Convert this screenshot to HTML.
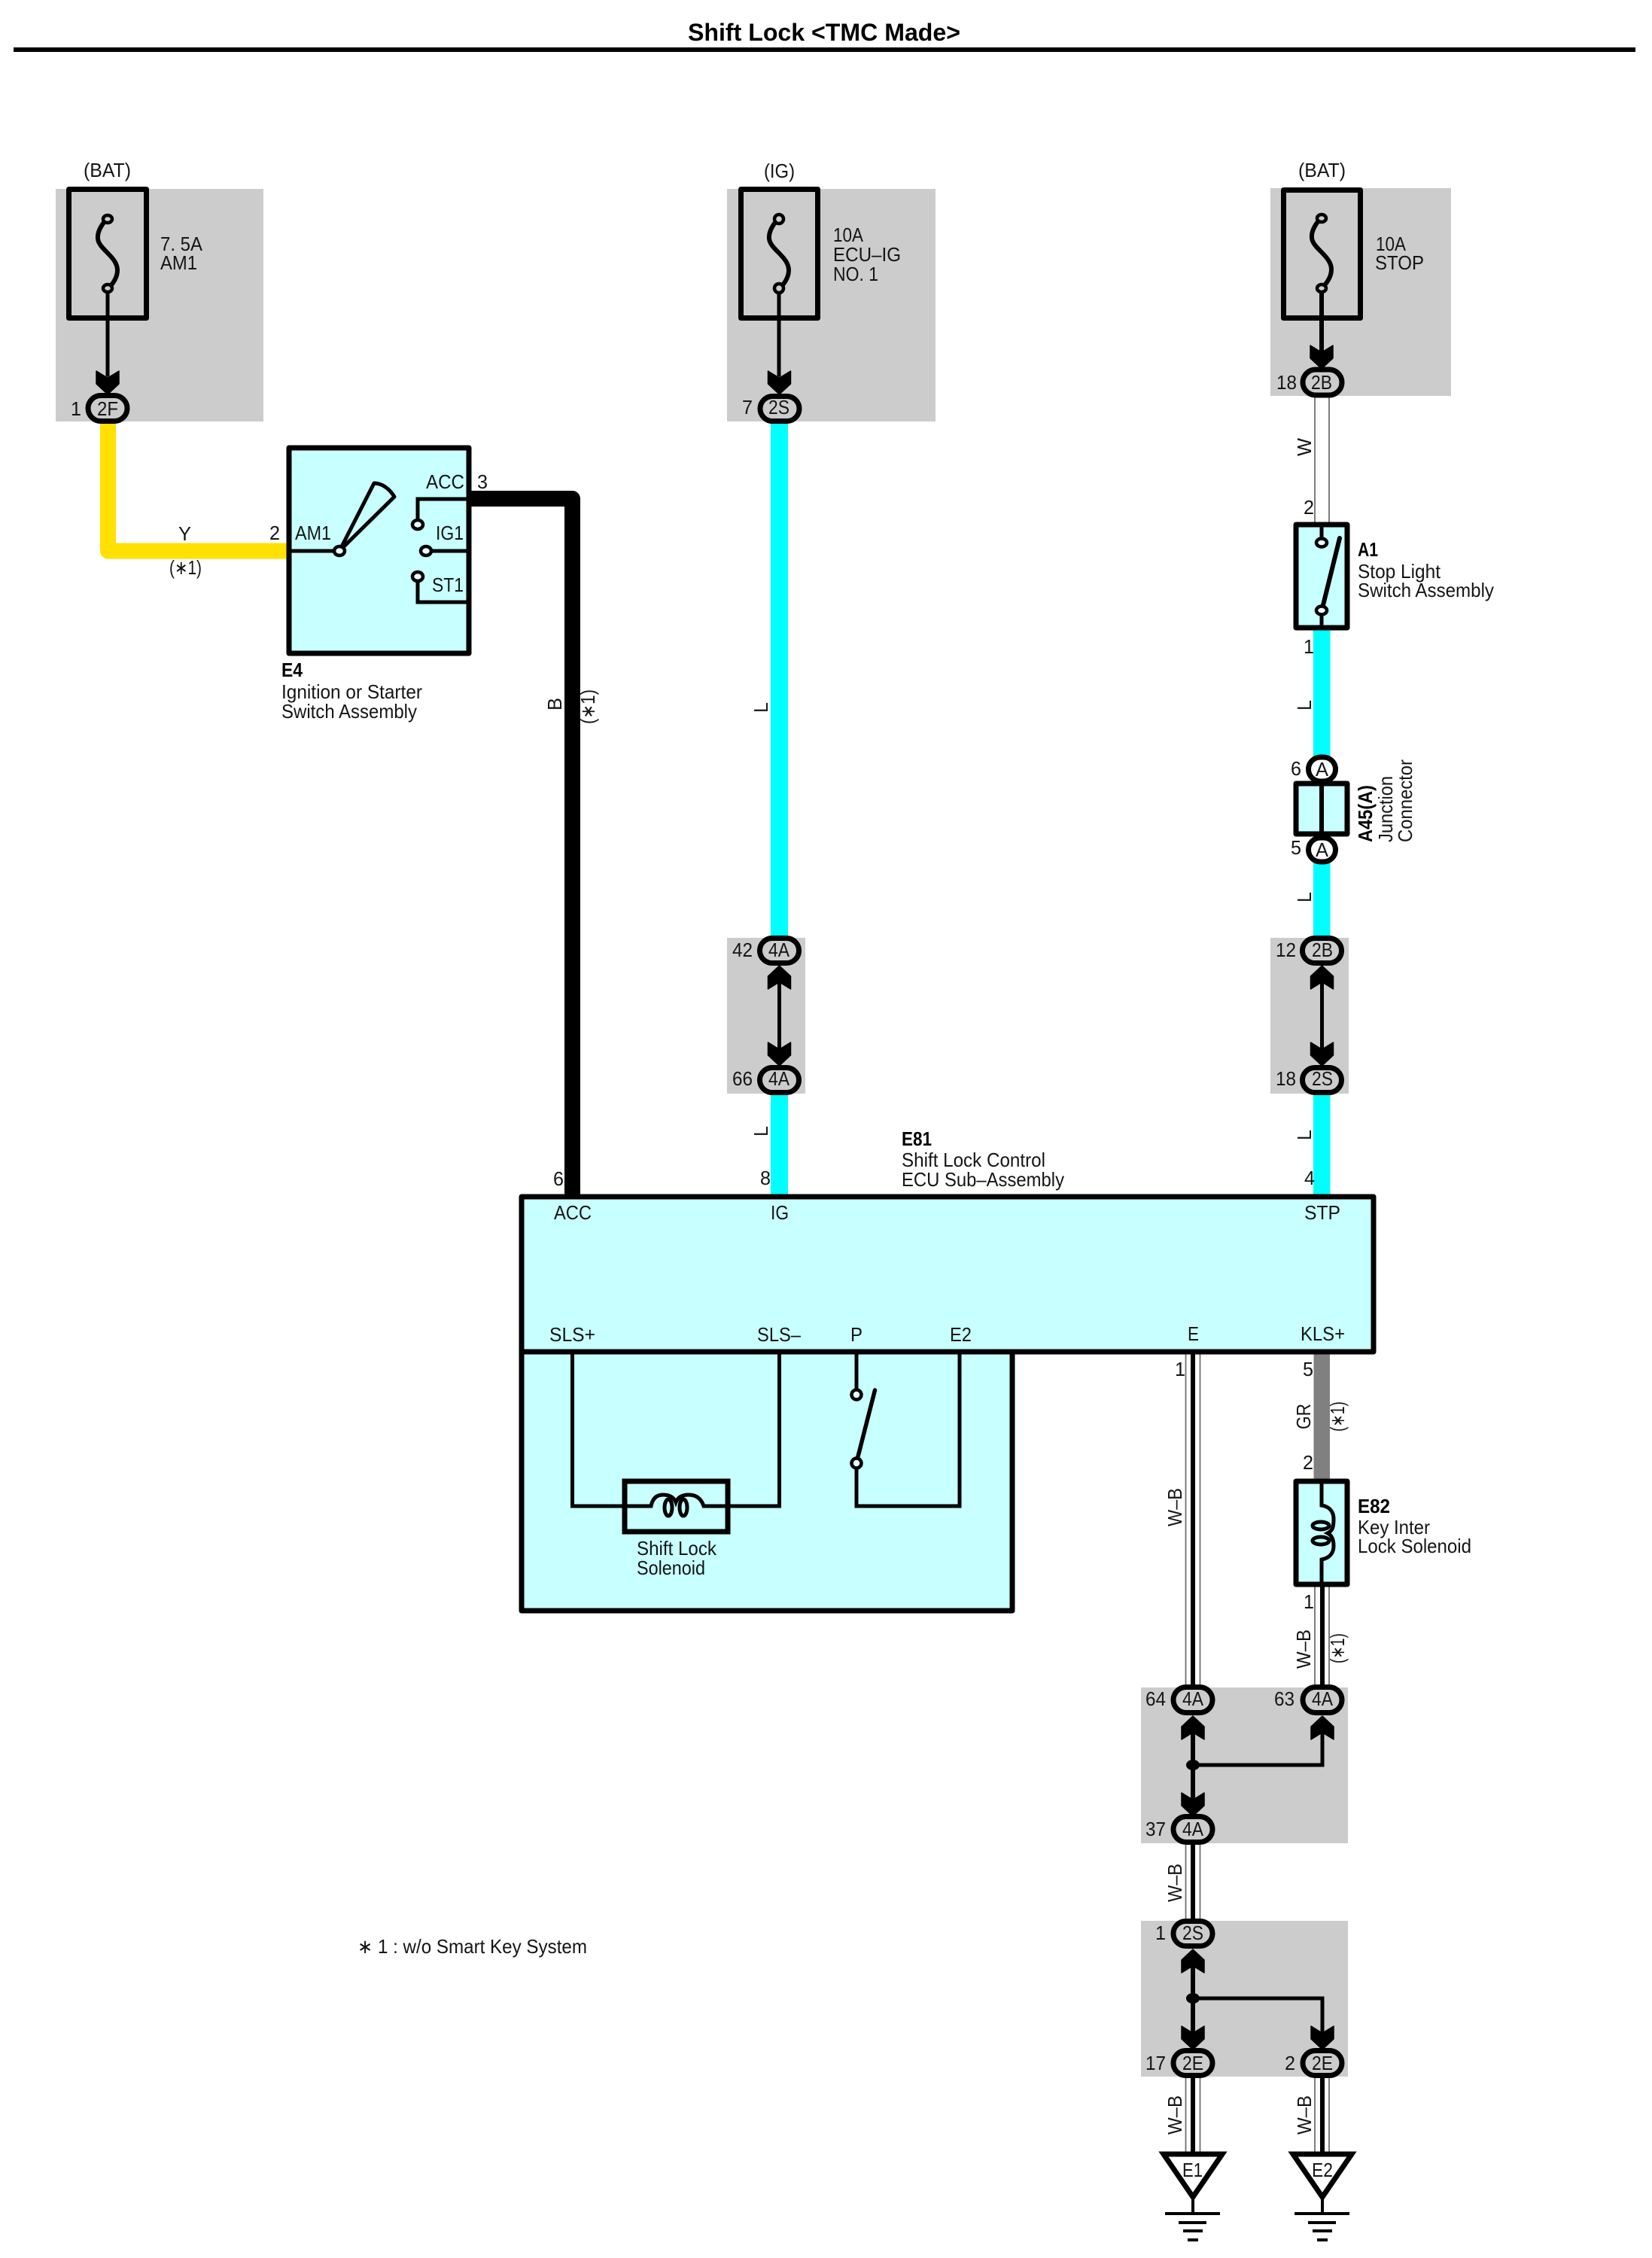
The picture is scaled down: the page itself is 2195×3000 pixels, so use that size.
<!DOCTYPE html>
<html>
<head>
<meta charset="utf-8">
<title>Shift Lock &lt;TMC Made&gt;</title>
<style>
html,body{margin:0;padding:0;background:#fff;}
svg{display:block;}
text{font-family:"Liberation Sans",Arial,sans-serif;font-size:26px;fill:#151515;}
.b{font-weight:bold;fill:#000;}
.gr{fill:#ccc;}
.box{fill:#c8ffff;stroke:#000;stroke-width:7;stroke-linejoin:round;}
.fb{fill:none;stroke:#000;stroke-width:7;stroke-linejoin:round;}
.c{fill:#ccc;stroke:#000;stroke-width:7;}
.l{fill:none;stroke:#000;stroke-width:5;}
.t{fill:none;stroke:#000;stroke-width:4;}
.pin{fill:#e8ffff;stroke:#000;stroke-width:4.5;}
.th{stroke:#707070;stroke-width:1.8;fill:none;}
</style>
</head>
<body>
<svg xmlns="http://www.w3.org/2000/svg" width="2195" height="3000" viewBox="0 0 2195 3000">
<defs>
<polygon id="ad" points="-15,-30 -2,-22 2,-22 15,-30 15,-13 0,1 -15,-13" fill="#000" stroke="#000" stroke-width="1.5" stroke-linejoin="round"/>
<polygon id="au" points="-15,30 -2,22 2,22 15,30 15,13 0,-1 -15,13" fill="#000" stroke="#000" stroke-width="1.5" stroke-linejoin="round"/>
<path id="fs" d="M0 0 C-6 4 -14 16 -13 26 C-12 40 13 50 13 68 C13 78 6 88 0 92" fill="none" stroke="#000" stroke-width="6"/>
</defs>
<rect width="2195" height="3000" fill="#fff"/>

<!-- Title -->
<text class="b" x="914" y="54" style="font-size:32px" textLength="362" lengthAdjust="spacingAndGlyphs">Shift Lock &lt;TMC Made&gt;</text>
<rect x="18" y="63" width="2155" height="6" fill="#000"/>

<!-- Grey areas -->
<rect class="gr" x="74" y="251" width="276" height="309"/>
<rect class="gr" x="966" y="251" width="277" height="309"/>
<rect class="gr" x="1688" y="250" width="240" height="276"/>
<rect class="gr" x="966" y="1246" width="104" height="207"/>
<rect class="gr" x="1688" y="1246" width="104" height="207"/>
<rect class="gr" x="1516" y="2242" width="275" height="207"/>
<rect class="gr" x="1516" y="2552" width="275" height="207"/>

<!-- Thick wires -->
<path d="M143.5 560 V732 H384" fill="none" stroke="#ffe000" stroke-width="21" stroke-linejoin="round"/>
<path d="M626 662.5 H760.5 V1590" fill="none" stroke="#000" stroke-width="21" stroke-linejoin="round"/>
<rect x="1024" y="560" width="23" height="690" fill="#00ffff"/>
<rect x="1024" y="1450" width="23" height="138" fill="#00ffff"/>
<rect x="1745" y="835" width="22.5" height="175" fill="#00ffff"/>
<rect x="1745" y="1140" width="22.5" height="110" fill="#00ffff"/>
<rect x="1745" y="1450" width="22.5" height="138" fill="#00ffff"/>
<rect x="1745.5" y="1796" width="21.5" height="172" fill="#808080"/>

<!-- White / W-B wires -->
<path class="th" d="M1747 526 V696 M1766 526 V696"/>
<path class="th" d="M1575.5 1799 V2242 M1594.5 1799 V2242 M1575.5 2451 V2552 M1594.5 2451 V2552 M1575.5 2761 V2860 M1594.5 2761 V2860 M1747 2108 V2242 M1766 2108 V2242 M1747 2761 V2860 M1766 2761 V2860"/>
<path d="M1585 1799 V2242 M1585 2451 V2552 M1585 2761 V2860 M1757 2108 V2242 M1757 2761 V2860" fill="none" stroke="#000" stroke-width="6"/>

<!-- Fuse 1 -->
<rect class="fb" x="91.5" y="251.5" width="103" height="171"/>
<use href="#fs" x="143" y="291"/>
<ellipse class="pin" style="fill:#ccc" cx="143" cy="291" rx="6" ry="5"/>
<ellipse class="pin" style="fill:#ccc" cx="143" cy="383" rx="6" ry="5"/>
<path class="l" d="M143 388 V500"/>
<use href="#ad" x="143" y="523"/>
<rect class="c" x="117" y="525.5" width="52" height="34" rx="17"/>

<!-- Fuse 2 -->
<rect class="fb" x="984.5" y="251.5" width="102" height="171"/>
<use href="#fs" x="1035" y="291"/>
<ellipse class="pin" style="fill:#ccc" cx="1035" cy="291" rx="6" ry="6"/>
<ellipse class="pin" style="fill:#ccc" cx="1035" cy="383" rx="6" ry="6"/>
<path class="l" d="M1035 389 V500"/>
<use href="#ad" x="1035.5" y="523"/>
<rect class="c" x="1010" y="526.5" width="52" height="33" rx="16.5"/>

<!-- Fuse 3 -->
<rect class="fb" x="1705.5" y="252.5" width="102" height="170"/>
<use href="#fs" x="1756" y="290"/>
<ellipse class="pin" style="fill:#ccc" cx="1756" cy="290" rx="6" ry="5"/>
<ellipse class="pin" style="fill:#ccc" cx="1756" cy="383" rx="6" ry="5"/>
<path class="l" style="stroke-width:6" d="M1756 388 V470"/>
<use href="#ad" x="1756" y="489"/>
<rect class="c" x="1731" y="491" width="52" height="34" rx="17"/>

<!-- E4 switch -->
<rect class="box" x="384" y="595" width="239" height="273"/>
<path class="l" d="M384 732 H447"/>
<path class="l" d="M451 732 L497 642 C508 642 518 650 524 660 Z" stroke-linejoin="round"/>
<ellipse class="pin" cx="451" cy="732" rx="7" ry="6"/>
<path class="l" d="M623 663 H555 V691"/>
<ellipse class="pin" cx="555" cy="697" rx="7" ry="6"/>
<path class="l" d="M623 732 H572"/>
<ellipse class="pin" cx="566" cy="732" rx="7" ry="6"/>
<path class="l" d="M555 772 V800 H623"/>
<ellipse class="pin" cx="555" cy="766" rx="7" ry="6"/>

<!-- A1 stop light switch -->
<rect class="box" x="1722" y="697" width="68" height="137"/>
<path class="l" d="M1756 697 V716 M1756 817 V834"/>
<path d="M1757 808 L1780 715" fill="none" stroke="#000" stroke-width="6" stroke-linecap="round"/>
<ellipse class="pin" cx="1756" cy="721" rx="7" ry="5.5"/>
<ellipse class="pin" cx="1756" cy="811" rx="7" ry="5.5"/>

<!-- A45 junction -->
<rect class="box" x="1722" y="1041" width="68" height="67"/>
<path class="l" style="stroke-width:6" d="M1756 1041 V1108"/>
<rect x="1738.5" y="1006" width="36" height="32" rx="16" fill="#fff" stroke="#000" stroke-width="7"/>
<rect x="1738.5" y="1113" width="36" height="32" rx="16" fill="#fff" stroke="#000" stroke-width="7"/>

<!-- Mid connectors col 2 -->
<path class="l" d="M1035.5 1300 V1400"/>
<use href="#au" x="1035.5" y="1284"/>
<use href="#ad" x="1035.5" y="1415"/>
<rect class="c" x="1009.5" y="1246.5" width="52" height="33" rx="16.5"/>
<rect class="c" x="1009.5" y="1418.5" width="52" height="33" rx="16.5"/>

<!-- Mid connectors col 3 -->
<path class="l" d="M1756.5 1300 V1400"/>
<use href="#au" x="1756.5" y="1284"/>
<use href="#ad" x="1756.5" y="1415"/>
<rect class="c" x="1730.5" y="1246.5" width="52" height="33" rx="16.5"/>
<rect class="c" x="1730.5" y="1418.5" width="52" height="33" rx="16.5"/>

<!-- E81 -->
<rect class="box" x="693" y="1796" width="652" height="344"/>
<rect class="box" x="693" y="1590" width="1132" height="206"/>
<path class="l" d="M760.5 1799 V2001 H830 M970 2001 H1035.5 V1799"/>
<rect x="830" y="1968" width="137" height="67" fill="none" stroke="#000" stroke-width="7"/>
<path class="l" d="M830 2001 H865 Q868 1986 881 1986 Q894 1986 898 1996 Q902 1986 915 1986 Q930 1986 935 2001 H967"/>
<ellipse class="l" cx="888" cy="2003" rx="5" ry="11"/>
<ellipse class="l" cx="908" cy="2003" rx="5" ry="11"/>
<path class="l" d="M1138 1799 V1846 M1138 1951 V2001 H1275 V1799"/>
<path d="M1139 1939 L1162.5 1847" fill="none" stroke="#000" stroke-width="5.5" stroke-linecap="round"/>
<circle class="pin" cx="1138" cy="1853" r="6.5"/>
<circle class="pin" cx="1138" cy="1944" r="6.5"/>

<!-- E82 -->
<rect class="box" x="1722" y="1968" width="68" height="137"/>
<path class="l" d="M1756 1968 V2000 C1768 2002 1772 2010 1772 2018 C1772 2030 1770 2034 1764 2037 C1770 2040 1772 2046 1772 2054 C1772 2064 1766 2070 1756 2072 V2105"/>
<ellipse class="l" cx="1755" cy="2027" rx="11" ry="5"/>
<ellipse class="l" cx="1755" cy="2047" rx="11" ry="5"/>

<!-- Lower connectors -->
<path class="l" style="stroke-width:6" d="M1585 2300 V2400 M1585 2610 V2700"/>
<path class="l" d="M1585 2345 H1757 V2300 M1585 2655 H1757 V2700"/>
<ellipse cx="1585" cy="2345" rx="9" ry="7" fill="#000"/>
<ellipse cx="1585" cy="2655" rx="9" ry="7" fill="#000"/>
<use href="#au" x="1585" y="2281"/>
<use href="#au" x="1757" y="2281"/>
<use href="#ad" x="1585" y="2412"/>
<use href="#au" x="1585" y="2591"/>
<use href="#ad" x="1585" y="2722"/>
<use href="#ad" x="1757" y="2722"/>
<rect class="c" x="1559" y="2241.5" width="52" height="34" rx="17"/>
<rect class="c" x="1731" y="2241.5" width="52" height="34" rx="17"/>
<rect class="c" x="1559" y="2413.5" width="52" height="34" rx="17"/>
<rect class="c" x="1559" y="2552.5" width="52" height="33" rx="16.5"/>
<rect class="c" x="1559" y="2724.5" width="52" height="33" rx="16.5"/>
<rect class="c" x="1731" y="2724.5" width="52" height="33" rx="16.5"/>

<!-- Grounds -->
<polygon points="1546,2862 1624,2862 1585,2919" fill="#fff" stroke="#000" stroke-width="7" stroke-linejoin="miter"/>
<polygon points="1718,2862 1796,2862 1757,2919" fill="#fff" stroke="#000" stroke-width="7" stroke-linejoin="miter"/>
<path d="M1585 2920 V2941 M1548 2941 H1621 M1566 2953 H1603 M1572 2964 H1598 M1578 2976 H1592" fill="none" stroke="#000" stroke-width="4"/>
<path d="M1757 2920 V2941 M1720 2941 H1793 M1738 2953 H1775 M1744 2964 H1770 M1750 2976 H1764" fill="none" stroke="#000" stroke-width="4"/>

<!-- Labels column 1 -->
<text x="111" y="235" textLength="63" lengthAdjust="spacingAndGlyphs">(BAT)</text>
<text x="213" y="333" textLength="56" lengthAdjust="spacingAndGlyphs">7. 5A</text>
<text x="213" y="358" textLength="49" lengthAdjust="spacingAndGlyphs">AM1</text>
<text x="94" y="552" textLength="14" lengthAdjust="spacingAndGlyphs">1</text>
<text x="129" y="552" textLength="28" lengthAdjust="spacingAndGlyphs">2F</text>
<text x="237" y="718" textLength="17" lengthAdjust="spacingAndGlyphs">Y</text>
<text x="225" y="763" textLength="43" lengthAdjust="spacingAndGlyphs">(∗1)</text>
<text x="358" y="717" textLength="14" lengthAdjust="spacingAndGlyphs">2</text>
<text x="392" y="717" textLength="48" lengthAdjust="spacingAndGlyphs">AM1</text>
<text x="566" y="649" textLength="51" lengthAdjust="spacingAndGlyphs">ACC</text>
<text x="634" y="649" textLength="14" lengthAdjust="spacingAndGlyphs">3</text>
<text x="579" y="717" textLength="37" lengthAdjust="spacingAndGlyphs">IG1</text>
<text x="574" y="786" textLength="42" lengthAdjust="spacingAndGlyphs">ST1</text>
<text class="b" x="374" y="899" textLength="28" lengthAdjust="spacingAndGlyphs">E4</text>
<text x="374" y="928" textLength="187" lengthAdjust="spacingAndGlyphs">Ignition or Starter</text>
<text x="374" y="954" textLength="180" lengthAdjust="spacingAndGlyphs">Switch Assembly</text>
<text transform="translate(746,944) rotate(-90)" textLength="17" lengthAdjust="spacingAndGlyphs">B</text>
<text transform="translate(790,962) rotate(-90)" textLength="46" lengthAdjust="spacingAndGlyphs">(∗1)</text>

<!-- Labels column 2 -->
<text x="1015" y="236" textLength="41" lengthAdjust="spacingAndGlyphs">(IG)</text>
<text x="1107" y="321" textLength="40" lengthAdjust="spacingAndGlyphs">10A</text>
<text x="1107" y="347" textLength="90" lengthAdjust="spacingAndGlyphs">ECU–IG</text>
<text x="1107" y="373" textLength="60" lengthAdjust="spacingAndGlyphs">NO. 1</text>
<text x="986" y="550" textLength="14" lengthAdjust="spacingAndGlyphs">7</text>
<text x="1021" y="550" textLength="28" lengthAdjust="spacingAndGlyphs">2S</text>
<text transform="translate(1020,947) rotate(-90)" textLength="14" lengthAdjust="spacingAndGlyphs">L</text>
<text x="973" y="1271" textLength="27" lengthAdjust="spacingAndGlyphs">42</text>
<text x="1021" y="1271" textLength="28" lengthAdjust="spacingAndGlyphs">4A</text>
<text x="973" y="1442" textLength="27" lengthAdjust="spacingAndGlyphs">66</text>
<text x="1021" y="1442" textLength="28" lengthAdjust="spacingAndGlyphs">4A</text>
<text transform="translate(1020,1510) rotate(-90)" textLength="14" lengthAdjust="spacingAndGlyphs">L</text>
<text x="1010" y="1574" textLength="14" lengthAdjust="spacingAndGlyphs">8</text>
<text class="b" x="1198" y="1522" textLength="40" lengthAdjust="spacingAndGlyphs">E81</text>
<text x="1198" y="1550" textLength="191" lengthAdjust="spacingAndGlyphs">Shift Lock Control</text>
<text x="1198" y="1576" textLength="216" lengthAdjust="spacingAndGlyphs">ECU Sub–Assembly</text>

<!-- E81 labels -->
<text x="735" y="1575" textLength="14" lengthAdjust="spacingAndGlyphs">6</text>
<text x="736" y="1620" textLength="50" lengthAdjust="spacingAndGlyphs">ACC</text>
<text x="1024" y="1620" textLength="24" lengthAdjust="spacingAndGlyphs">IG</text>
<text x="1733" y="1620" textLength="48" lengthAdjust="spacingAndGlyphs">STP</text>
<text x="730" y="1782" textLength="61" lengthAdjust="spacingAndGlyphs">SLS+</text>
<text x="1006" y="1782" textLength="58" lengthAdjust="spacingAndGlyphs">SLS–</text>
<text x="1130" y="1782" textLength="16" lengthAdjust="spacingAndGlyphs">P</text>
<text x="1262" y="1782" textLength="29" lengthAdjust="spacingAndGlyphs">E2</text>
<text x="1578" y="1781" textLength="15" lengthAdjust="spacingAndGlyphs">E</text>
<text x="1728" y="1781" textLength="59" lengthAdjust="spacingAndGlyphs">KLS+</text>
<text x="846" y="2066" textLength="106" lengthAdjust="spacingAndGlyphs">Shift Lock</text>
<text x="846" y="2092" textLength="91" lengthAdjust="spacingAndGlyphs">Solenoid</text>

<!-- Labels column 3 -->
<text x="1725" y="235" textLength="63" lengthAdjust="spacingAndGlyphs">(BAT)</text>
<text x="1828" y="333" textLength="40" lengthAdjust="spacingAndGlyphs">10A</text>
<text x="1827" y="358" textLength="65" lengthAdjust="spacingAndGlyphs">STOP</text>
<text x="1696" y="517" textLength="27" lengthAdjust="spacingAndGlyphs">18</text>
<text x="1742" y="517" textLength="28" lengthAdjust="spacingAndGlyphs">2B</text>
<text transform="translate(1742,606) rotate(-90)" textLength="24" lengthAdjust="spacingAndGlyphs">W</text>
<text x="1732" y="683" textLength="14" lengthAdjust="spacingAndGlyphs">2</text>
<text class="b" x="1804" y="739" textLength="27" lengthAdjust="spacingAndGlyphs">A1</text>
<text x="1804" y="768" textLength="110" lengthAdjust="spacingAndGlyphs">Stop Light</text>
<text x="1804" y="793" textLength="181" lengthAdjust="spacingAndGlyphs">Switch Assembly</text>
<text x="1732" y="868" textLength="14" lengthAdjust="spacingAndGlyphs">1</text>
<text transform="translate(1742,944) rotate(-90)" textLength="14" lengthAdjust="spacingAndGlyphs">L</text>
<text x="1715" y="1030" textLength="14" lengthAdjust="spacingAndGlyphs">6</text>
<text x="1748" y="1031" textLength="17" lengthAdjust="spacingAndGlyphs">A</text>
<text x="1715" y="1135" textLength="14" lengthAdjust="spacingAndGlyphs">5</text>
<text x="1748" y="1138" textLength="17" lengthAdjust="spacingAndGlyphs">A</text>
<text class="b" transform="translate(1823,1119) rotate(-90)" textLength="76" lengthAdjust="spacingAndGlyphs">A45(A)</text>
<text transform="translate(1850,1119) rotate(-90)" textLength="88" lengthAdjust="spacingAndGlyphs">Junction</text>
<text transform="translate(1876,1119) rotate(-90)" textLength="110" lengthAdjust="spacingAndGlyphs">Connector</text>
<text transform="translate(1742,1199) rotate(-90)" textLength="14" lengthAdjust="spacingAndGlyphs">L</text>
<text x="1695" y="1271" textLength="27" lengthAdjust="spacingAndGlyphs">12</text>
<text x="1743" y="1271" textLength="28" lengthAdjust="spacingAndGlyphs">2B</text>
<text x="1695" y="1442" textLength="27" lengthAdjust="spacingAndGlyphs">18</text>
<text x="1743" y="1442" textLength="28" lengthAdjust="spacingAndGlyphs">2S</text>
<text transform="translate(1742,1515) rotate(-90)" textLength="14" lengthAdjust="spacingAndGlyphs">L</text>
<text x="1733" y="1574" textLength="14" lengthAdjust="spacingAndGlyphs">4</text>

<!-- Below E81 right -->
<text x="1561" y="1828" textLength="14" lengthAdjust="spacingAndGlyphs">1</text>
<text x="1731" y="1828" textLength="14" lengthAdjust="spacingAndGlyphs">5</text>
<text transform="translate(1741,1899) rotate(-90)" textLength="34" lengthAdjust="spacingAndGlyphs">GR</text>
<text transform="translate(1786,1902) rotate(-90)" textLength="40" lengthAdjust="spacingAndGlyphs">(∗1)</text>
<text x="1731" y="1952" textLength="14" lengthAdjust="spacingAndGlyphs">2</text>
<text transform="translate(1570,2028) rotate(-90)" textLength="51" lengthAdjust="spacingAndGlyphs">W–B</text>
<text class="b" x="1804" y="2010" textLength="43" lengthAdjust="spacingAndGlyphs">E82</text>
<text x="1804" y="2038" textLength="96" lengthAdjust="spacingAndGlyphs">Key Inter</text>
<text x="1804" y="2063" textLength="151" lengthAdjust="spacingAndGlyphs">Lock Solenoid</text>
<text x="1732" y="2137" textLength="14" lengthAdjust="spacingAndGlyphs">1</text>
<text transform="translate(1741,2217) rotate(-90)" textLength="52" lengthAdjust="spacingAndGlyphs">W–B</text>
<text transform="translate(1786,2210) rotate(-90)" textLength="40" lengthAdjust="spacingAndGlyphs">(∗1)</text>

<!-- Bottom labels -->
<text x="1522" y="2266" textLength="27" lengthAdjust="spacingAndGlyphs">64</text>
<text x="1571" y="2266" textLength="28" lengthAdjust="spacingAndGlyphs">4A</text>
<text x="1693" y="2266" textLength="27" lengthAdjust="spacingAndGlyphs">63</text>
<text x="1743" y="2266" textLength="28" lengthAdjust="spacingAndGlyphs">4A</text>
<text x="1522" y="2439" textLength="27" lengthAdjust="spacingAndGlyphs">37</text>
<text x="1571" y="2439" textLength="28" lengthAdjust="spacingAndGlyphs">4A</text>
<text transform="translate(1570,2527) rotate(-90)" textLength="51" lengthAdjust="spacingAndGlyphs">W–B</text>
<text x="1535" y="2577" textLength="14" lengthAdjust="spacingAndGlyphs">1</text>
<text x="1571" y="2577" textLength="28" lengthAdjust="spacingAndGlyphs">2S</text>
<text x="1522" y="2750" textLength="27" lengthAdjust="spacingAndGlyphs">17</text>
<text x="1571" y="2750" textLength="28" lengthAdjust="spacingAndGlyphs">2E</text>
<text x="1707" y="2750" textLength="14" lengthAdjust="spacingAndGlyphs">2</text>
<text x="1743" y="2750" textLength="28" lengthAdjust="spacingAndGlyphs">2E</text>
<text transform="translate(1570,2836) rotate(-90)" textLength="52" lengthAdjust="spacingAndGlyphs">W–B</text>
<text transform="translate(1742,2836) rotate(-90)" textLength="52" lengthAdjust="spacingAndGlyphs">W–B</text>
<text x="1571" y="2892" textLength="27" lengthAdjust="spacingAndGlyphs">E1</text>
<text x="1743" y="2892" textLength="28" lengthAdjust="spacingAndGlyphs">E2</text>

<!-- Footnote -->
<text x="475" y="2595" textLength="305" lengthAdjust="spacingAndGlyphs">∗ 1 : w/o Smart Key System</text>
</svg>
</body>
</html>
